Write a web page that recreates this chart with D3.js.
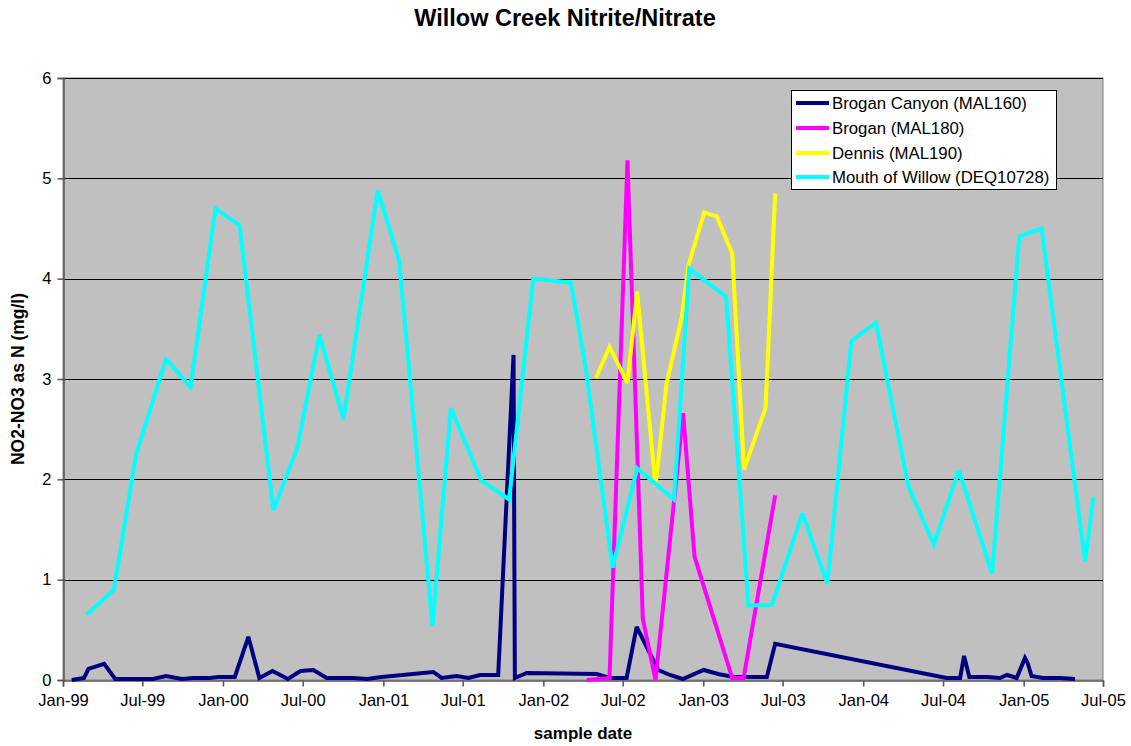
<!DOCTYPE html>
<html><head><meta charset="utf-8">
<script src="https://cdn.jsdelivr.net/npm/d3@7"></script>
<style>
body{margin:0;background:#fff}
svg{display:block}
text{font-family:"Liberation Sans",Arial,Helvetica,sans-serif;fill:#000}
</style>
</head><body>
<svg id="chart" width="1131" height="746"></svg>
<script>
// ---------- DATA ----------
const chartTitle = "Willow Creek Nitrite/Nitrate";
const xTitle = "sample date";
const yTitle = "NO2-NO3 as N (mg/l)";
const seriesNames = ["Brogan Canyon (MAL160)", "Brogan (MAL180)", "Dennis (MAL190)", "Mouth of Willow (DEQ10728)"];
const seriesColors = ["#000080", "#FF00FF", "#FFFF00", "#00FFFF"];
const yTickValues = [0, 1, 2, 3, 4, 5, 6];
const xTickLabels = ["Jan-99","Jul-99","Jan-00","Jul-00","Jan-01","Jul-01","Jan-02","Jul-02","Jan-03","Jul-03","Jan-04","Jul-04","Jan-05","Jul-05"];

const broganCanyonDates = ["1999-01-21","1999-02-18","1999-02-28","1999-04-05","1999-04-30","1999-06-30","1999-07-25","1999-08-24","1999-09-29","1999-10-25","1999-12-02","1999-12-21","2000-01-28","2000-02-28","2000-03-24","2000-04-23","2000-05-28","2000-06-26","2000-07-25","2000-08-25","2000-10-24","2000-11-25","2000-12-28","2001-04-25","2001-05-14","2001-06-17","2001-07-14","2001-08-10","2001-09-20","2001-10-25","2001-10-28","2001-11-24","2002-05-03","2002-06-01","2002-07-10","2002-08-02","2002-09-20","2002-10-17","2002-11-15","2003-01-02","2003-02-04","2003-03-11","2003-05-26","2003-06-14","2004-07-09","2004-08-09","2004-08-18","2004-08-30","2004-10-09","2004-11-08","2004-11-24","2004-12-16","2005-01-04","2005-01-10","2005-01-19","2005-02-14","2005-03-25","2005-04-28"];
const broganCanyonValues = [0.00,0.02,0.11,0.16,0.01,0.01,0.01,0.04,0.01,0.02,0.02,0.03,0.03,0.43,0.02,0.09,0.01,0.09,0.10,0.02,0.02,0.01,0.03,0.08,0.02,0.04,0.02,0.05,0.05,3.24,0.02,0.07,0.06,0.02,0.02,0.53,0.10,0.05,0.01,0.10,0.06,0.03,0.03,0.36,0.02,0.02,0.24,0.03,0.03,0.02,0.05,0.02,0.22,0.17,0.04,0.02,0.02,0.01];

const broganDates = ["2002-04-10","2002-06-01","2002-07-12","2002-08-16","2002-09-14","2002-11-16","2002-12-12","2003-03-08","2003-04-03","2003-06-14"];
const broganValues = [0.00,0.02,5.18,0.61,0.00,2.66,1.23,0.02,0.02,1.84];

const dennisDates = ["2002-05-01","2002-06-01","2002-07-12","2002-08-03","2002-09-14","2002-10-09","2002-11-13","2002-11-28","2003-01-03","2003-02-01","2003-03-08","2003-04-04","2003-05-23","2003-06-14"];
const dennisValues = [3.01,3.32,2.96,3.87,1.93,2.95,3.62,4.13,4.66,4.62,4.25,2.10,2.71,4.85];

const mouthDates = ["1999-02-24","1999-04-27","1999-06-17","1999-08-24","1999-10-19","1999-12-15","2000-02-08","2000-04-25","2000-06-19","2000-08-08","2000-10-02","2000-12-19","2001-02-06","2001-04-23","2001-06-04","2001-08-12","2001-10-15","2001-12-09","2002-03-05","2002-04-08","2002-06-08","2002-08-03","2002-10-26","2002-11-30","2003-02-22","2003-04-14","2003-06-07","2003-08-15","2003-10-11","2003-12-05","2004-01-30","2004-04-13","2004-06-10","2004-08-06","2004-10-21","2004-12-22","2005-02-11","2005-05-21","2005-06-09"];
const mouthValues = [0.65,0.90,2.25,3.20,2.92,4.70,4.53,1.69,2.32,3.44,2.60,4.88,4.18,0.54,2.71,1.99,1.80,4.00,3.96,3.10,1.12,2.11,1.80,4.10,3.82,0.74,0.75,1.66,0.96,3.38,3.56,1.93,1.35,2.09,1.06,4.42,4.50,1.18,1.82];

// ---------- CHART ----------
const parseDate = d3.utcParse("%Y-%m-%d");
const parseTick = d3.utcParse("%b-%y");
const svg = d3.select("#chart");
const plot = {left: 63, right: 1103, top: 78, bottom: 680};

const x = d3.scaleUtc()
  .domain([parseTick(xTickLabels[0]), parseTick(xTickLabels[xTickLabels.length - 1])])
  .range([plot.left, plot.right]);
const y = d3.scaleLinear().domain([0, 6]).range([plot.bottom, plot.top]);

// plot background
svg.append("rect")
  .attr("x", plot.left).attr("y", plot.top)
  .attr("width", plot.right - plot.left).attr("height", plot.bottom - plot.top)
  .attr("fill", "#C0C0C0").attr("stroke", "#808080").attr("stroke-width", 1);

// gridlines
svg.append("g").selectAll("line")
  .data(yTickValues.filter(v => v > 0))
  .join("line")
  .attr("x1", plot.left).attr("x2", plot.right)
  .attr("y1", d => Math.round(y(d)) + 0.5).attr("y2", d => Math.round(y(d)) + 0.5)
  .attr("stroke", "#000").attr("stroke-width", 1);

// axes
const yAxis = d3.axisLeft(y).tickValues(yTickValues).tickFormat(d3.format("d")).tickSizeOuter(0).tickSize(6).tickPadding(6);
const gy = svg.append("g").attr("transform", `translate(${plot.left + 0.5},0)`).call(yAxis);
gy.selectAll("text").style("font-size", "16.5px");

const xAxis = d3.axisBottom(x)
  .tickValues(xTickLabels.map(parseTick))
  .tickFormat(d3.utcFormat("%b-%y"))
  .tickSizeOuter(0).tickSize(6).tickPadding(8);
const gx = svg.append("g").attr("transform", `translate(0,${plot.bottom + 0.5})`).call(xAxis);
gx.selectAll("text").style("font-size", "16.5px");
[gx, gy].forEach(g => {
  g.select(".domain").attr("stroke", "#555").attr("stroke-width", 1.5);
  g.selectAll(".tick line").attr("stroke", "#555").attr("stroke-width", 1.5);
  g.selectAll("text").attr("fill", "#000").style("font-family", '"Liberation Sans",Arial,sans-serif');
});

// series lines
const allSeries = [
  {dates: broganCanyonDates, values: broganCanyonValues},
  {dates: broganDates, values: broganValues},
  {dates: dennisDates, values: dennisValues},
  {dates: mouthDates, values: mouthValues}
];
const line = d3.line().x(d => x(d[0])).y(d => y(d[1]));
svg.append("g").selectAll("path")
  .data(allSeries)
  .join("path")
  .attr("d", s => line(s.dates.map((d, i) => [parseDate(d), s.values[i]])))
  .attr("fill", "none")
  .attr("stroke", (s, i) => seriesColors[i])
  .attr("stroke-width", 4)
  .attr("stroke-linejoin", "miter")
  .attr("stroke-miterlimit", 3);

// titles
svg.append("text").attr("x", 565).attr("y", 26).attr("text-anchor", "middle")
  .style("font-size", "23.5px").style("font-weight", "bold").text(chartTitle);
svg.append("text").attr("x", (plot.left + plot.right) / 2).attr("y", 739).attr("text-anchor", "middle")
  .style("font-size", "17px").style("font-weight", "bold").text(xTitle);
svg.append("text").attr("transform", `translate(24,${(plot.top + plot.bottom) / 2}) rotate(-90)`)
  .attr("text-anchor", "middle")
  .style("font-size", "17.5px").style("font-weight", "bold").text(yTitle);

// legend
const lg = svg.append("g");
lg.append("rect").attr("x", 791.5).attr("y", 90.5).attr("width", 265).attr("height", 99)
  .attr("fill", "#fff").attr("stroke", "#000").attr("stroke-width", 1);
const rowY = [103, 128, 153, 177];
seriesNames.forEach((name, i) => {
  lg.append("line").attr("x1", 796).attr("x2", 829).attr("y1", rowY[i]).attr("y2", rowY[i])
    .attr("stroke", seriesColors[i]).attr("stroke-width", 4);
  lg.append("text").attr("x", 832).attr("y", rowY[i] + 6)
    .style("font-size", "16.8px").text(name);
});
</script>
</body></html>
